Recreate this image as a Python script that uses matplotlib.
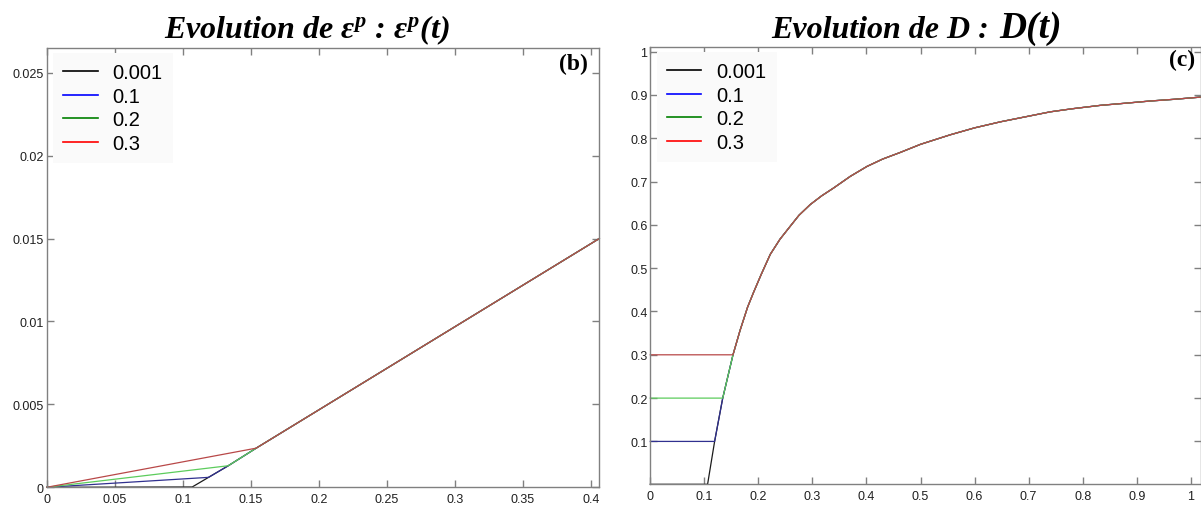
import numpy as np
import matplotlib.pyplot as plt
from matplotlib.lines import Line2D

plt.rcParams['font.family'] = ['Liberation Sans', 'DejaVu Sans']
plt.rcParams['mathtext.fontset'] = 'custom'
plt.rcParams['mathtext.rm'] = 'Liberation Serif:bold:italic'
plt.rcParams['mathtext.it'] = 'Liberation Serif:bold:italic'
plt.rcParams['mathtext.bf'] = 'Liberation Serif:bold:italic'

# legend labels (initial damage D0)
labels = ['0.001', '0.1', '0.2', '0.3']

# (b) plastic strain ep(t), one polyline per D0
t_ep_k = [0, 0.107, 0.119, 0.1335, 0.154, 0.4063]
ep_k = [0, 0.00002, 0.0006, 0.0013, 0.00236, 0.0150]
t_ep_b = [0, 0.119, 0.1335, 0.154, 0.4063]
ep_b = [0, 0.0006, 0.0013, 0.00236, 0.0150]
t_ep_g = [0, 0.1335, 0.154, 0.4063]
ep_g = [0, 0.0013, 0.00236, 0.0150]
t_ep_r = [0, 0.154, 0.4063]
ep_r = [0, 0.00236, 0.0150]

# (c) damage D(t): common tail after the kink at D=0.3
t_tail = [0.153, 0.166, 0.18, 0.191, 0.205, 0.222, 0.24, 0.259, 0.275, 0.296, 0.317,
          0.339, 0.37, 0.401, 0.43, 0.462, 0.5, 0.555, 0.6, 0.648, 0.7, 0.740,
          0.78, 0.833, 0.88, 0.925, 0.97, 1.018]
d_tail = [0.3, 0.356, 0.41, 0.444, 0.485, 0.532, 0.567, 0.597, 0.622, 0.647, 0.667,
          0.685, 0.712, 0.735, 0.752, 0.767, 0.786, 0.808, 0.824, 0.838, 0.851, 0.861,
          0.868, 0.876, 0.881, 0.886, 0.890, 0.895]
t_d_k = [0, 0.106, 0.119, 0.134] + t_tail
d_k = [0.001, 0.001, 0.1, 0.2] + d_tail
t_d_b = [0, 0.119, 0.134] + t_tail
d_b = [0.1, 0.1, 0.2] + d_tail
t_d_g = [0, 0.134] + t_tail
d_g = [0.2, 0.2] + d_tail
t_d_r = [0] + t_tail
d_r = [0.3] + d_tail

xt_b = [0, 0.05, 0.1, 0.15, 0.2, 0.25, 0.3, 0.35, 0.4]
xtl_b = ['0', '0.05', '0.1', '0.15', '0.2', '0.25', '0.3', '0.35', '0.4']
yt_b = [0, 0.005, 0.01, 0.015, 0.02, 0.025]
ytl_b = ['0', '0.005', '0.01', '0.015', '0.02', '0.025']
xt_c = [0, 0.1, 0.2, 0.3, 0.4, 0.5, 0.6, 0.7, 0.8, 0.9, 1]
xtl_c = ['0', '0.1', '0.2', '0.3', '0.4', '0.5', '0.6', '0.7', '0.8', '0.9', '1']
yt_c = [0.1, 0.2, 0.3, 0.4, 0.5, 0.6, 0.7, 0.8, 0.9, 1]
ytl_c = ['0.1', '0.2', '0.3', '0.4', '0.5', '0.6', '0.7', '0.8', '0.9', '1']

line_cols = ['#1a1a1a', '#30308f', '#5ccc5c', '#b84848']
leg_cols = ['black', 'blue', 'green', 'red']

W, H = 1201, 506
fig = plt.figure(figsize=(W / 100, H / 100), dpi=100)


def px_axes(x0, y0, x1, y1):
    # pixel box (top-left origin) -> figure fraction
    return fig.add_axes([x0 / W, 1 - y1 / H, (x1 - x0) / W, (y1 - y0) / H])


axb = px_axes(46.7, 49.3, 599.3, 488.3)
axc = px_axes(650.3, 48.3, 1200.5, 485.3)

for t, v, c in zip([t_ep_k, t_ep_b, t_ep_g, t_ep_r], [ep_k, ep_b, ep_g, ep_r], line_cols):
    axb.plot(t, v, color=c, lw=0.9, clip_on=False)
for t, v, c in zip([t_d_k, t_d_b, t_d_g, t_d_r], [d_k, d_b, d_g, d_r], line_cols):
    axc.plot(t, v, color=c, lw=0.9, clip_on=False)

axb.set_xlim(0, 0.4063)
axb.set_ylim(0, 0.02647)
axc.set_xlim(0, 1.018)
axc.set_ylim(0.001, 1.01)

for ax, xt, xtl, yt, ytl in [(axb, xt_b, xtl_b, yt_b, ytl_b), (axc, xt_c, xtl_c, yt_c, ytl_c)]:
    ax.set_xticks(xt, xtl)
    ax.set_yticks(yt, ytl)
    ax.tick_params(direction='in', length=5, width=1, color='#808080', top=True, right=True,
                   labelsize=9, labelcolor='#202020')
    ax.tick_params(axis='y', pad=2)
    ax.tick_params(axis='x', pad=4)
    for s in ax.spines.values():
        s.set_color('#808080')
        s.set_linewidth(1)
    handles = [Line2D([], [], color=c, lw=1.2) for c in leg_cols]
    leg = ax.legend(handles, labels, loc='upper left', bbox_to_anchor=(0.012, 0.99),
                    borderaxespad=0, fontsize=14.5, frameon=True, facecolor='#fafafa',
                    edgecolor='none', framealpha=1, fancybox=False, handlelength=1.7,
                    handletextpad=0.75, labelspacing=0.24, borderpad=0.5)
    leg.get_frame().set_linewidth(0)

axb.text(588 / W, 1 - 64 / H, '(b)', transform=fig.transFigure, ha='right', va='center',
         fontsize=17, fontweight='bold', family='Liberation Serif')
axc.text(1195 / W, 1 - 60 / H, '(c)', transform=fig.transFigure, ha='right', va='center',
         fontsize=17, fontweight='bold', family='Liberation Serif')

fig.text(307 / W, 1 - 38 / H, r'Evolution de $\varepsilon^p$ : $\varepsilon^p(t)$',
         ha='center', va='baseline', fontsize=23, fontweight='bold', style='italic',
         family='Liberation Serif')
fig.text(997 / W, 1 - 38 / H, 'Evolution de D : ', ha='right', va='baseline', fontsize=23,
         fontweight='bold', style='italic', family='Liberation Serif')
fig.text(999 / W, 1 - 38 / H, 'D(t)', ha='left', va='baseline', fontsize=27,
         fontweight='bold', style='italic', family='Liberation Serif')

fig.savefig('out.png', dpi=100)
